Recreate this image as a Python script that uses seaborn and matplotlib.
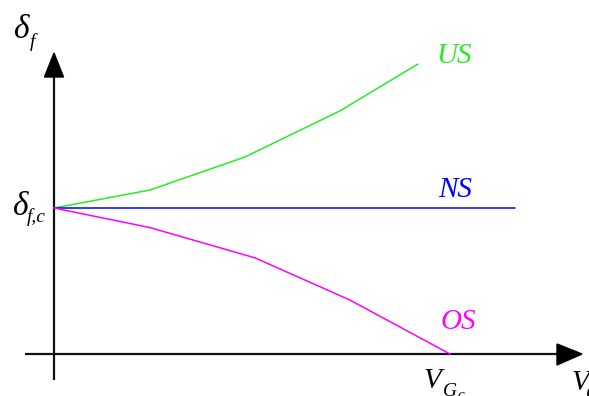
import matplotlib
matplotlib.use("Agg")
import matplotlib.pyplot as plt
from matplotlib.patches import Polygon
import seaborn as sns
import pandas as pd

# Normalised speed (V_G / V_Gc) and steer angle (delta_f / delta_f,c)
us_speed = [0.0, 0.242, 0.482, 0.722, 0.919]
us_steer = [1.0, 1.123, 1.349, 1.665, 1.986]

ns_speed = [0.0, 1.164]
ns_steer = [1.0, 1.0]

os_speed = [0.0, 0.242, 0.508, 0.747, 1.0]
os_steer = [1.0, 0.866, 0.658, 0.370, 0.0]

series_labels = ["US", "NS", "OS"]
series_colors = ["#22ee22", "#0000ff", "#ff00ff"]

frames = []
for name, xs, ys in zip(series_labels,
                        [us_speed, ns_speed, os_speed],
                        [us_steer, ns_steer, os_steer]):
    frames.append(pd.DataFrame({"speed": xs, "steer": ys, "kind": name}))
df = pd.concat(frames, ignore_index=True)

sns.set_style("white")
W, H = 589, 396
fig = plt.figure(figsize=(W / 100, H / 100), dpi=100)
ax = fig.add_axes([0, 0, 1, 1])

# pixel -> data helpers (axes fill the whole figure)
X0, XS = 54, 396.0
Y0, YS = 354, 146.0
def dx(px):
    return (px - X0) / XS
def dy(py):
    return (Y0 - py) / YS

ax.set_xlim(dx(0), dx(W))
ax.set_ylim(dy(H), dy(0))

sns.lineplot(data=df, x="speed", y="steer", hue="kind",
             palette=dict(zip(series_labels, series_colors)),
             sort=False, estimator=None, lw=1.1, legend=False, ax=ax,
             zorder=3)

# coordinate axes with arrowheads
axis_col = "#111111"
ax.plot([dx(25), dx(560)], [0, 0], color=axis_col, lw=1.6, zorder=2,
        solid_capstyle="butt")
ax.plot([0, 0], [dy(380), dy(70)], color=axis_col, lw=1.6, zorder=2,
        solid_capstyle="butt")
ax.add_patch(Polygon([(dx(582), dy(354)), (dx(557), dy(344)), (dx(557), dy(365))],
                     closed=True, color="black", zorder=4))
ax.add_patch(Polygon([(dx(54), dy(53)), (dx(44.5), dy(77)), (dx(63.5), dy(77))],
                     closed=True, color="black", zorder=4))

serif = ["Liberation Serif", "DejaVu Serif"]
def label(px, py, s, size, color="black", ha="left", va="baseline"):
    ax.text(dx(px), dy(py), s, fontsize=size, color=color, style="italic",
            family=serif, ha=ha, va=va, zorder=5)

# curve names
label(436, 63, "US", 21, series_colors[0])
label(438, 197, "NS", 21, series_colors[1])
label(441, 329, "OS", 21, series_colors[2])

# axis names
label(13, 38, "\u03b4", 24)
label(30, 47, "f", 14)
label(12, 215, "\u03b4", 24)
label(27, 222, "f,c", 14)
label(423, 388, "V", 21)
label(443, 396, "G", 14)
label(458, 399, "c", 11)
label(571, 390, "V", 21)
label(586, 399, "G", 14)

ax.set_axis_off()
fig.savefig("out.png", dpi=100, facecolor="white")
